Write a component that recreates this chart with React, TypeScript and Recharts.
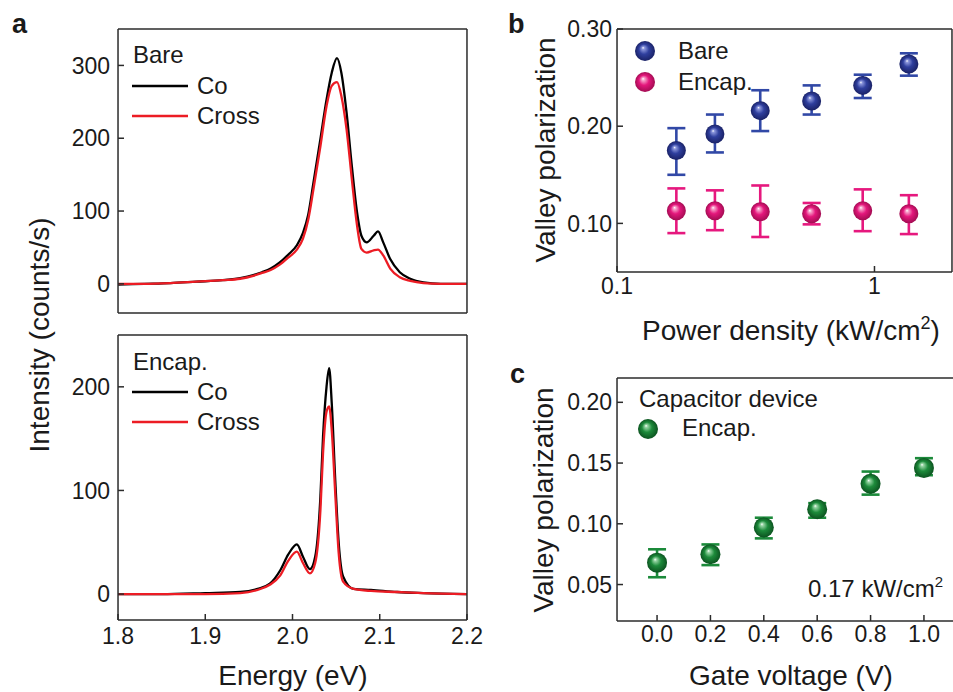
import React from 'react';
import { LineChart, Line, XAxis, YAxis, ScatterChart, Scatter, ErrorBar, Legend } from 'recharts';

const FONT = '"Liberation Sans", Arial, Helvetica, sans-serif';
const AXIS = '#2b2b2b';
const TEXT = '#1a1a1a';
const BLACK = '#000000';
const RED = '#ec1c24';
const BLUE = '#3148a6';
const PINK = '#e6187e';
const GREEN = '#1b8a3a';

// ---------- Panel a (Bare) ----------
const bareEnergy = [1.80, 1.83, 1.86, 1.89, 1.92, 1.94, 1.955, 1.965, 1.975, 1.985, 1.995, 2.005, 2.012, 2.018, 2.024, 2.032, 2.039, 2.045, 2.051, 2.056, 2.062, 2.068, 2.074, 2.079, 2.085, 2.093, 2.098, 2.104, 2.112, 2.123, 2.135, 2.15, 2.17, 2.20];
const bareCo = [-1, 0, 1, 3, 5, 8, 12, 16, 21, 29, 40, 53, 70, 95, 139, 199, 253, 290, 310, 290, 235, 162, 98, 66, 57, 66, 72, 57, 34, 16, 7, 2, 0, 0];
const bareCross = [0, 0, 1, 3, 5, 7, 11, 15, 19, 26, 36, 47, 62, 88, 130, 189, 244, 272, 277, 258, 212, 144, 80, 48, 43, 46, 47, 39, 21, 9, 4, 1, 0, 0];

// ---------- Panel a (Encap.) ----------
const encEnergy = [1.80, 1.85, 1.90, 1.94, 1.96, 1.974, 1.986, 1.995, 2.005, 2.012, 2.020, 2.026, 2.032, 2.035, 2.039, 2.042, 2.045, 2.049, 2.053, 2.058, 2.070, 2.09, 2.12, 2.15, 2.20];
const encCo = [0, 0, 1, 2, 5, 10, 23, 38, 48, 36, 24, 36, 94, 152, 200, 218, 184, 110, 49, 17, 5, 4, 2, 1, 0];
const encCross = [0, 0, 0, 1, 4, 9, 18, 32, 41, 30, 20, 30, 81, 136, 176, 181, 158, 97, 39, 12, 5, 3, 2, 1, 0];

const energyTicks = [1.8, 1.9, 2.0, 2.1, 2.2];
const energyMinor = [1.8, 1.85, 1.9, 1.95, 2.0, 2.05, 2.1, 2.15, 2.2];
const bareYTicks = [0, 100, 200, 300];
const bareYMinor = [0, 50, 100, 150, 200, 250, 300];
const encYTicks = [0, 100, 200];
const encYMinor = [0, 50, 100, 150, 200];

// ---------- Panel b ----------
const powerDensity = [0.17, 0.24, 0.36, 0.57, 0.90, 1.36];
const bareVP = [0.175, 0.192, 0.216, 0.226, 0.242, 0.264];
const bareVPLow = [0.150, 0.173, 0.195, 0.212, 0.229, 0.252];
const bareVPHigh = [0.198, 0.212, 0.237, 0.242, 0.253, 0.275];
const encVP = [0.113, 0.113, 0.112, 0.110, 0.113, 0.110];
const encVPLow = [0.090, 0.093, 0.086, 0.099, 0.092, 0.089];
const encVPHigh = [0.136, 0.134, 0.139, 0.121, 0.135, 0.129];
const pdTicks = [0.1, 1];
const pdMinor = [0.2, 0.3, 0.4, 0.5, 0.6, 0.7, 0.8, 0.9, 2];
const vpbTicks = [0.1, 0.2, 0.3];
const vpbMinor = [0.05, 0.1, 0.15, 0.2, 0.25, 0.3];

// ---------- Panel c ----------
const gateVoltage = [0.0, 0.2, 0.4, 0.6, 0.8, 1.0];
const gateVP = [0.068, 0.075, 0.097, 0.112, 0.133, 0.146];
const gateVPLow = [0.056, 0.066, 0.088, 0.105, 0.124, 0.140];
const gateVPHigh = [0.079, 0.083, 0.105, 0.117, 0.143, 0.154];
const gvTicks = [0.0, 0.2, 0.4, 0.6, 0.8, 1.0];
const gvMinor = [-0.1, 0.0, 0.1, 0.2, 0.3, 0.4, 0.5, 0.6, 0.7, 0.8, 0.9, 1.0, 1.1];
const vpcTicks = [0.05, 0.10, 0.15, 0.20];
const vpcMinor = [0.025, 0.05, 0.075, 0.1, 0.125, 0.15, 0.175, 0.2];

const spectrum = (e: number[], co: number[], cr: number[]) => e.map((v, i) => ({ e: v, co: co[i], cross: cr[i] }));
const points = (x: number[], y: number[], lo: number[], hi: number[]) =>
  x.map((v, i) => ({ x: v, y: y[i], err: [y[i] - lo[i], hi[i] - y[i]] }));

const bareData = spectrum(bareEnergy, bareCo, bareCross);
const encData = spectrum(encEnergy, encCo, encCross);
const bData = points(powerDensity, bareVP, bareVPLow, bareVPHigh);
const eData = points(powerDensity, encVP, encVPLow, encVPHigh);
const gData = points(gateVoltage, gateVP, gateVPLow, gateVPHigh);

const THIN = 0.01;

type FrameOpts = {
  xDomain: [number, number]; yDomain: [number, number];
  xTicks: number[]; xMinor: number[]; yTicks: number[]; yMinor: number[];
  xLog?: boolean; showX: boolean; xFmt?: (v: number) => string; yFmt?: (v: number) => string;
  xTickMargin: number; yTickMargin: number; xKey?: string; yKey?: string;
};

function frame(o: FrameOpts) {
  const line = { stroke: AXIS, strokeWidth: 1.5 };
  const tickStyle = { fill: TEXT, fontSize: 23, fontFamily: FONT };
  const xc: any = { type: 'number', domain: o.xDomain, allowDataOverflow: true, height: THIN, interval: 0, scale: o.xLog ? 'log' : 'linear' };
  const yc: any = { type: 'number', domain: o.yDomain, allowDataOverflow: true, width: THIN, interval: 0 };
  return [
    <XAxis key="xb" xAxisId={0} dataKey={o.xKey} {...xc} orientation="bottom" ticks={o.xTicks} tickSize={-6} tickMargin={o.xTickMargin} tickLine={line} axisLine={line} tick={o.showX ? tickStyle : false} tickFormatter={o.xFmt} />,
    <XAxis key="xbm" xAxisId="xbm" {...xc} orientation="bottom" ticks={o.xMinor} tickSize={-3.5} tickLine={line} axisLine={false} tick={false} />,
    <XAxis key="xt" xAxisId="xt" {...xc} orientation="top" ticks={o.xTicks} tickSize={-6} tickLine={line} axisLine={line} tick={false} />,
    <XAxis key="xtm" xAxisId="xtm" {...xc} orientation="top" ticks={o.xMinor} tickSize={-3.5} tickLine={line} axisLine={false} tick={false} />,
    <YAxis key="yl" yAxisId={0} dataKey={o.yKey} {...yc} orientation="left" ticks={o.yTicks} tickSize={-6} tickMargin={o.yTickMargin} tickLine={line} axisLine={line} tick={tickStyle} tickFormatter={o.yFmt} />,
    <YAxis key="ylm" yAxisId="ylm" {...yc} orientation="left" ticks={o.yMinor} tickSize={-3.5} tickLine={line} axisLine={false} tick={false} />,
    <YAxis key="yr" yAxisId="yr" {...yc} orientation="right" ticks={o.yTicks} tickSize={-6} tickLine={line} axisLine={line} tick={false} />,
    <YAxis key="yrm" yAxisId="yrm" {...yc} orientation="right" ticks={o.yMinor} tickSize={-3.5} tickLine={line} axisLine={false} tick={false} />,
  ];
}

const txt = { fontFamily: FONT, fill: TEXT } as const;

const legendA = (w: number, h: number, title: string, titleY: number, rowY: number[]) => (props: any) => {
  const p = props.payload || [];
  return (
    <svg width={w} height={h} style={{ position: 'absolute', left: 0, top: 0, overflow: 'visible' }}>
      <text x={133} y={titleY} fontSize={24} {...txt}>{title}</text>
      {p.map((e: any, i: number) => (
        <g key={i}>
          <line x1={132} x2={188} y1={rowY[i]} y2={rowY[i]} stroke={e.color} strokeWidth={2.5} />
          <text x={197} y={rowY[i] + 8} fontSize={24} {...txt}>{e.value}</text>
        </g>
      ))}
    </svg>
  );
};

const gradId: Record<string, string> = { [BLUE]: 'sphBlue', [PINK]: 'sphPink', [GREEN]: 'sphGreen' };
const sphere = (color: string, r: number) => (p: any) => (
  <circle cx={p.cx} cy={p.cy} r={r} fill={`url(#${gradId[color]})`} />
);

const legendB = (props: any) => {
  const p = props.payload || [];
  const ys = [51, 82];
  return (
    <svg width={473} height={350} style={{ position: 'absolute', left: 0, top: 0, overflow: 'visible' }}>
      {p.map((e: any, i: number) => (
        <g key={i}>
          <circle cx={165} cy={ys[i]} r={10} fill={`url(#${gradId[e.color] || 'sphBlue'})`} />
          <text x={198} y={ys[i] + 8} fontSize={24} {...txt}>{e.value}</text>
        </g>
      ))}
    </svg>
  );
};

const legendC = (props: any) => {
  const p = props.payload || [];
  return (
    <svg width={490} height={342} style={{ position: 'absolute', left: 0, top: 0, overflow: 'visible' }}>
      <text x={159} y={57} fontSize={24} {...txt}>Capacitor device</text>
      {p.map((e: any, i: number) => (
        <g key={i}>
          <circle cx={168} cy={79} r={10} fill="url(#sphGreen)" />
          <text x={202} y={86} fontSize={24} {...txt}>{e.value}</text>
        </g>
      ))}
      <text x={328} y={247} fontSize={24} {...txt}>0.17 kW/cm<tspan dy={-10} fontSize={15}>2</tspan></text>
    </svg>
  );
};

function Grad({ id, light, base, dark }: { id: string; light: string; base: string; dark: string }) {
  return (
    <radialGradient id={id} cx="50%" cy="50%" r="50%" fx="40%" fy="33%">
      <stop offset="0%" stopColor="#ffffff" />
      <stop offset="14%" stopColor={light} />
      <stop offset="50%" stopColor={base} />
      <stop offset="100%" stopColor={dark} />
    </radialGradient>
  );
}

export default function App() {
  const abs = (l: number, t: number): React.CSSProperties => ({ position: 'absolute', left: l, top: t });
  return (
    <div style={{ position: 'absolute', left: 0, top: 0, width: 953, height: 692, background: '#fff', fontFamily: FONT, overflow: 'hidden' }}>
      <svg width={0} height={0} style={{ position: 'absolute' }}>
        <defs>
          <Grad id="sphBlue" light="#8c97dc" base="#2f3f9e" dark="#1a2266" />
          <Grad id="sphPink" light="#f7a6cc" base="#e4177c" dark="#a30c52" />
          <Grad id="sphGreen" light="#97d5a4" base="#1d8b3b" dark="#0c5320" />
        </defs>
      </svg>

      {/* Panel a top: Bare */}
      <div style={abs(0, 0)}>
        <LineChart width={500} height={320} data={bareData} margin={{ top: 29, right: 33, bottom: 7, left: 118 }}>
          {frame({ xDomain: [1.8, 2.2], yDomain: [-40, 350], xTicks: energyTicks, xMinor: energyMinor, yTicks: bareYTicks, yMinor: bareYMinor, showX: false, xTickMargin: 14, yTickMargin: 14, xKey: 'e' })}
          <Line dataKey="co" name="Co" stroke={BLACK} strokeWidth={2.3} dot={false} type="monotone" isAnimationActive={false} />
          <Line dataKey="cross" name="Cross" stroke={RED} strokeWidth={2.3} dot={false} type="monotone" isAnimationActive={false} />
          <Legend layout="vertical" align="center" verticalAlign="middle" wrapperStyle={{ left: 0, top: 0, width: 480, height: 320 }} content={legendA(480, 320, 'Bare', 63, [86, 116])} />
        </LineChart>
      </div>

      {/* Panel a bottom: Encap. */}
      <div style={abs(0, 320)}>
        <LineChart width={500} height={372} data={encData} margin={{ top: 15, right: 33, bottom: 72, left: 118 }}>
          {frame({ xDomain: [1.8, 2.2], yDomain: [-25, 250], xTicks: energyTicks, xMinor: energyMinor, yTicks: encYTicks, yMinor: encYMinor, showX: true, xFmt: (v) => v.toFixed(1), xTickMargin: 14, yTickMargin: 14, xKey: 'e' })}
          <Line dataKey="co" name="Co" stroke={BLACK} strokeWidth={2.3} dot={false} type="monotone" isAnimationActive={false} />
          <Line dataKey="cross" name="Cross" stroke={RED} strokeWidth={2.3} dot={false} type="monotone" isAnimationActive={false} />
          <Legend layout="vertical" align="center" verticalAlign="middle" wrapperStyle={{ left: 0, top: 0, width: 480, height: 372 }} content={legendA(480, 372, 'Encap.', 50, [72, 102])} />
        </LineChart>
      </div>

      {/* Panel b */}
      <div style={abs(480, 0)}>
        <ScatterChart width={473} height={350} margin={{ top: 29, right: 1, bottom: 78, left: 137 }}>
          {frame({ xDomain: [0.1, 2], yDomain: [0.05, 0.3], xLog: true, xTicks: pdTicks, xMinor: pdMinor, yTicks: vpbTicks, yMinor: vpbMinor, showX: true, xFmt: (v) => String(v), yFmt: (v) => v.toFixed(2), xTickMargin: 12, yTickMargin: 11, xKey: 'x', yKey: 'y' })}
          <Scatter name="Bare" data={bData} fill={BLUE} shape={sphere(BLUE, 9.5)} isAnimationActive={false}>
            <ErrorBar dataKey="err" direction="y" width={9} stroke={BLUE} strokeWidth={2.6} />
          </Scatter>
          <Scatter name="Encap." data={eData} fill={PINK} shape={sphere(PINK, 9.5)} isAnimationActive={false}>
            <ErrorBar dataKey="err" direction="y" width={9} stroke={PINK} strokeWidth={2.6} />
          </Scatter>
          <Legend layout="vertical" align="center" verticalAlign="middle" wrapperStyle={{ left: 0, top: 0, width: 473, height: 350 }} content={legendB} />
        </ScatterChart>
      </div>

      {/* Panel c */}
      <div style={abs(480, 350)}>
        <ScatterChart width={490} height={342} margin={{ top: 28, right: 6, bottom: 71, left: 137 }}>
          {frame({ xDomain: [-0.15, 1.15], yDomain: [0.02, 0.22], xTicks: gvTicks, xMinor: gvMinor, yTicks: vpcTicks, yMinor: vpcMinor, showX: true, xFmt: (v) => v.toFixed(1), yFmt: (v) => v.toFixed(2), xTickMargin: 11, yTickMargin: 11, xKey: 'x', yKey: 'y' })}
          <Scatter name="Encap." data={gData} fill={GREEN} shape={sphere(GREEN, 10)} isAnimationActive={false}>
            <ErrorBar dataKey="err" direction="y" width={9} stroke={GREEN} strokeWidth={2.6} />
          </Scatter>
          <Legend layout="vertical" align="center" verticalAlign="middle" wrapperStyle={{ left: 0, top: 0, width: 490, height: 342 }} content={legendC} />
        </ScatterChart>
      </div>

      {/* Titles and panel letters */}
      <svg width={953} height={692} style={{ position: 'absolute', left: 0, top: 0, pointerEvents: 'none' }}>
        <text x={12} y={33} fontSize={27} fontWeight="bold" {...txt}>a</text>
        <text x={508} y={33} fontSize={27} fontWeight="bold" {...txt}>b</text>
        <text x={510} y={383} fontSize={27} fontWeight="bold" {...txt}>c</text>
        <text x={49} y={335} fontSize={28} textAnchor="middle" transform="rotate(-90 49 335)" {...txt}>Intensity (counts/s)</text>
        <text x={293} y={685} fontSize={28} textAnchor="middle" {...txt}>Energy (eV)</text>
        <text x={555} y={150} fontSize={28} textAnchor="middle" transform="rotate(-90 555 150)" {...txt}>Valley polarization</text>
        <text x={553} y={500} fontSize={28} textAnchor="middle" transform="rotate(-90 553 500)" {...txt}>Valley polarization</text>
        <text x={791} y={340} fontSize={28} textAnchor="middle" {...txt}>Power density (kW/cm<tspan dy={-11} fontSize={18}>2</tspan><tspan dy={11}>)</tspan></text>
        <text x={791} y={685} fontSize={28} textAnchor="middle" {...txt}>Gate voltage (V)</text>
      </svg>
    </div>
  );
}
